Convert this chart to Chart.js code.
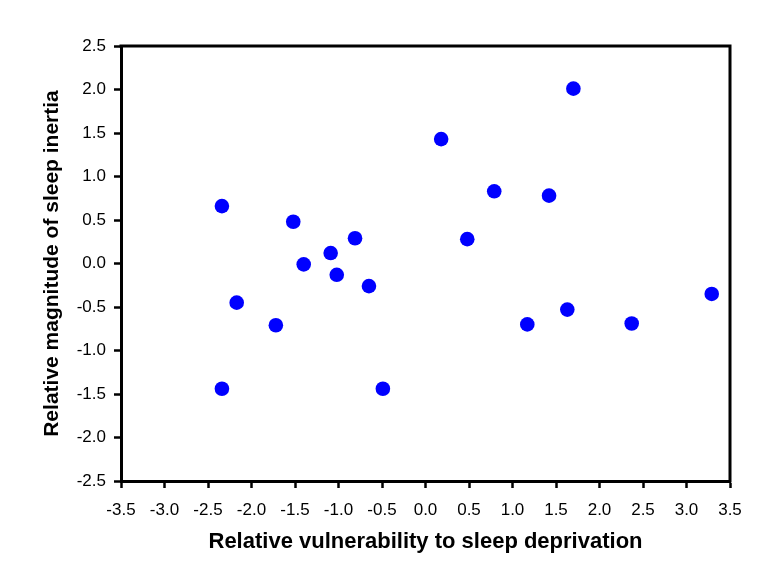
<!DOCTYPE html>
<html>
<head>
<meta charset="utf-8">
<script src="https://cdn.jsdelivr.net/npm/chart.js@4.4.0/dist/chart.umd.min.js"></script>
<style>
html,body{margin:0;padding:0;background:#fff;}
#wrap{width:777px;height:579px;position:relative;}
</style>
</head>
<body>
<div id="wrap"><canvas id="c" width="777" height="579"></canvas></div>
<script>
const vulnerability = [-2.34, -2.34, -2.17, -1.72, -1.52, -1.40, -1.09, -1.02, -0.81, -0.65, -0.49, 0.18, 0.48, 0.79, 1.17, 1.42, 1.70, 1.63, 2.37, 3.29];
const inertia = [0.66, -1.44, -0.45, -0.71, 0.48, -0.01, 0.12, -0.13, 0.29, -0.26, -1.44, 1.43, 0.28, 0.83, -0.70, 0.78, 2.01, -0.53, -0.69, -0.35];
const xTitle = 'Relative vulnerability to sleep deprivation';
const yTitle = 'Relative magnitude of sleep inertia';

const points = vulnerability.map((x, i) => ({x: x, y: inertia[i]}));

const frame = {
  id: 'frame',
  afterDraw(chart) {
    const {ctx, chartArea: a} = chart;
    ctx.save();
    ctx.strokeStyle = '#000';
    ctx.lineWidth = 3;
    ctx.beginPath();
    ctx.moveTo(a.left - 1.5, a.top);
    ctx.lineTo(a.right, a.top);
    ctx.lineTo(a.right, a.bottom + 1.5);
    ctx.stroke();
    ctx.restore();
  }
};

const tickFont = {family: '"Liberation Sans", Arial, sans-serif', size: 17};
const xTitleFont = {family: '"Liberation Sans", Arial, sans-serif', size: 22, weight: 'bold'};
const yTitleFont = {family: '"Liberation Sans", Arial, sans-serif', size: 21, weight: 'bold'};

new Chart(document.getElementById('c'), {
  type: 'scatter',
  data: {
    datasets: [{
      data: points,
      backgroundColor: '#0000ff',
      borderWidth: 0,
      pointRadius: 7.3,
      pointHoverRadius: 7.3
    }]
  },
  options: {
    responsive: false,
    animation: false,
    events: [],
    layout: {padding: {top: 46, right: 47, left: 40, bottom: 24}},
    plugins: {legend: {display: false}, tooltip: {enabled: false}},
    scales: {
      x: {
        type: 'linear',
        min: -3.5, max: 3.5,
        afterFit(s) { s.height = 74; },
        ticks: {stepSize: 0.5, color: '#000', font: tickFont, padding: 12,
          maxRotation: 0, autoSkip: false,
          callback: v => v.toFixed(1)},
        grid: {drawOnChartArea: false, drawTicks: true, tickLength: 7, tickWidth: 2.5, tickColor: '#000'},
        border: {display: true, color: '#000', width: 3},
        title: {display: true, text: xTitle, color: '#000', font: xTitleFont, padding: {top: 0, bottom: 0}}
      },
      y: {
        type: 'linear',
        min: -2.5, max: 2.5,
        afterFit(s) { s.width = 81; },
        ticks: {stepSize: 0.5, color: '#000', font: tickFont, padding: 8,
          autoSkip: false,
          callback: v => v.toFixed(1)},
        grid: {drawOnChartArea: false, drawTicks: true, tickLength: 7, tickWidth: 2.5, tickColor: '#000'},
        border: {display: true, color: '#000', width: 3},
        title: {display: true, text: yTitle, color: '#000', font: yTitleFont, padding: {top: 0, bottom: 0}}
      }
    }
  },
  plugins: [frame]
});
</script>
</body>
</html>
